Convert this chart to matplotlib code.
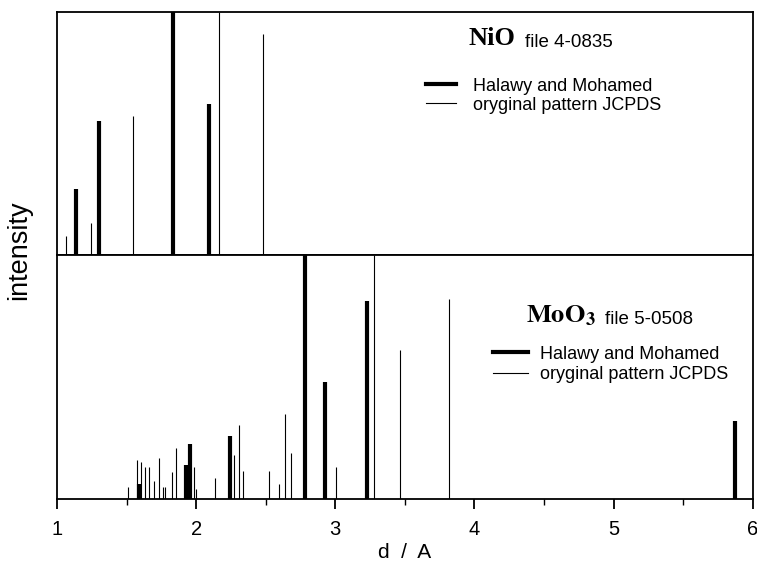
import matplotlib
matplotlib.use("Agg")
import matplotlib.pyplot as plt
from matplotlib.lines import Line2D

# ---------------- data (d-spacing in Angstrom, relative intensity %) ----------------
nio_d_halawy = [1.136, 1.300, 1.837, 2.096]
nio_i_halawy = [27, 55, 100, 62]
nio_d_jcpds = [1.067, 1.242, 1.548, 2.164, 2.481]
nio_i_jcpds = [8, 13, 57, 100, 91]

moo3_d_halawy = [1.592, 1.926, 1.957, 2.243, 2.780, 2.929, 3.229, 5.872]
moo3_i_halawy = [6, 14, 22.5, 26, 100, 48, 81, 32]
moo3_d_jcpds = [1.507, 1.572, 1.601, 1.635, 1.664, 1.697, 1.736, 1.765, 1.776,
                1.825, 1.856, 1.983, 2.000, 2.134, 2.274, 2.310, 2.334, 2.522,
                2.597, 2.640, 2.685, 3.007, 3.276, 3.464, 3.816]
moo3_i_jcpds = [5, 16, 15, 13, 13, 7.5, 17, 5, 5,
                11, 21, 13, 4, 8.5, 18, 30.5, 11.5, 11.5,
                6, 35, 19, 13, 100, 61, 82]

x_ticks = [1, 2, 3, 4, 5, 6]
legend_labels = ["Halawy and Mohamed", "oryginal pattern JCPDS"]

# ---------------- figure ----------------
plt.rcParams["mathtext.fontset"] = "stix"
W, H = 757, 568
fig = plt.figure(figsize=(W / 100, H / 100), dpi=100)
left, right = 57 / W, 752.7 / W
ax_top = fig.add_axes([left, 1 - 255 / H, right - left, (255 - 12) / H])
ax_bot = fig.add_axes([left, 1 - 499 / H, right - left, (499 - 255) / H], sharex=ax_top)

THICK, THIN = 3.0, 0.8
sans = "Liberation Sans"

for ax in (ax_top, ax_bot):
    ax.set_xlim(1, 6)
    ax.set_ylim(0, 100)
    ax.set_yticks([])
    for s in ax.spines.values():
        s.set_linewidth(1.3)
        s.set_color("black")

ax_top.vlines(nio_d_jcpds, 0, nio_i_jcpds, colors="black", lw=THIN)
ax_top.vlines(nio_d_halawy, 0, nio_i_halawy, colors="black", lw=THICK)
ax_bot.vlines(moo3_d_jcpds, 0, moo3_i_jcpds, colors="black", lw=THIN)
ax_bot.vlines(moo3_d_halawy, 0, moo3_i_halawy, colors="black", lw=THICK)

ax_top.tick_params(axis="x", which="both", bottom=False, labelbottom=False)
ax_bot.set_xticks(x_ticks)
ax_bot.set_xticks([1.5, 2.5, 3.5, 4.5, 5.5], minor=True)
ax_bot.tick_params(axis="x", which="major", direction="out", length=7, width=1.3,
                   labelsize=14.5, pad=8)
ax_bot.tick_params(axis="x", which="minor", direction="out", length=4, width=1.0)
for lab in ax_bot.get_xticklabels():
    lab.set_fontfamily(sans)

ax_bot.set_xlabel("d  /  A", fontsize=15, fontfamily=sans, labelpad=3)
fig.text(19 / W, 1 - 250 / H, "intensity", rotation=90, fontsize=19.5,
         fontfamily=sans, ha="center", va="center")

handles = [Line2D([], [], color="black", lw=THICK),
           Line2D([], [], color="black", lw=THIN)]

# NiO panel annotations
ax_top.text(0.592, 0.864, "NiO", transform=ax_top.transAxes, fontsize=19,
            fontfamily="Liberation Serif", fontweight="bold", va="baseline", ha="left")
ax_top.text(0.673, 0.858, "file 4-0835", transform=ax_top.transAxes, fontsize=13.5,
            fontfamily=sans, va="baseline", ha="left")
ax_top.legend(handles, legend_labels, loc="upper left", bbox_to_anchor=(0.530, 0.730),
              frameon=False, borderpad=0, borderaxespad=0, handlelength=1.7,
              handletextpad=0.9, labelspacing=0.12,
              prop={"family": sans, "size": 13})

# MoO3 panel annotations
ax_bot.text(0.674, 0.7225, r"$\mathbf{MoO_3}$", transform=ax_bot.transAxes, fontsize=19,
            va="baseline", ha="left")
ax_bot.text(0.788, 0.717, "file 5-0508", transform=ax_bot.transAxes, fontsize=13.5,
            fontfamily=sans, va="baseline", ha="left")
ax_bot.legend(handles, legend_labels, loc="upper left", bbox_to_anchor=(0.627, 0.629),
              frameon=False, borderpad=0, borderaxespad=0, handlelength=1.9,
              handletextpad=0.7, labelspacing=0.2,
              prop={"family": sans, "size": 13})

fig.savefig("out.png", dpi=100)
